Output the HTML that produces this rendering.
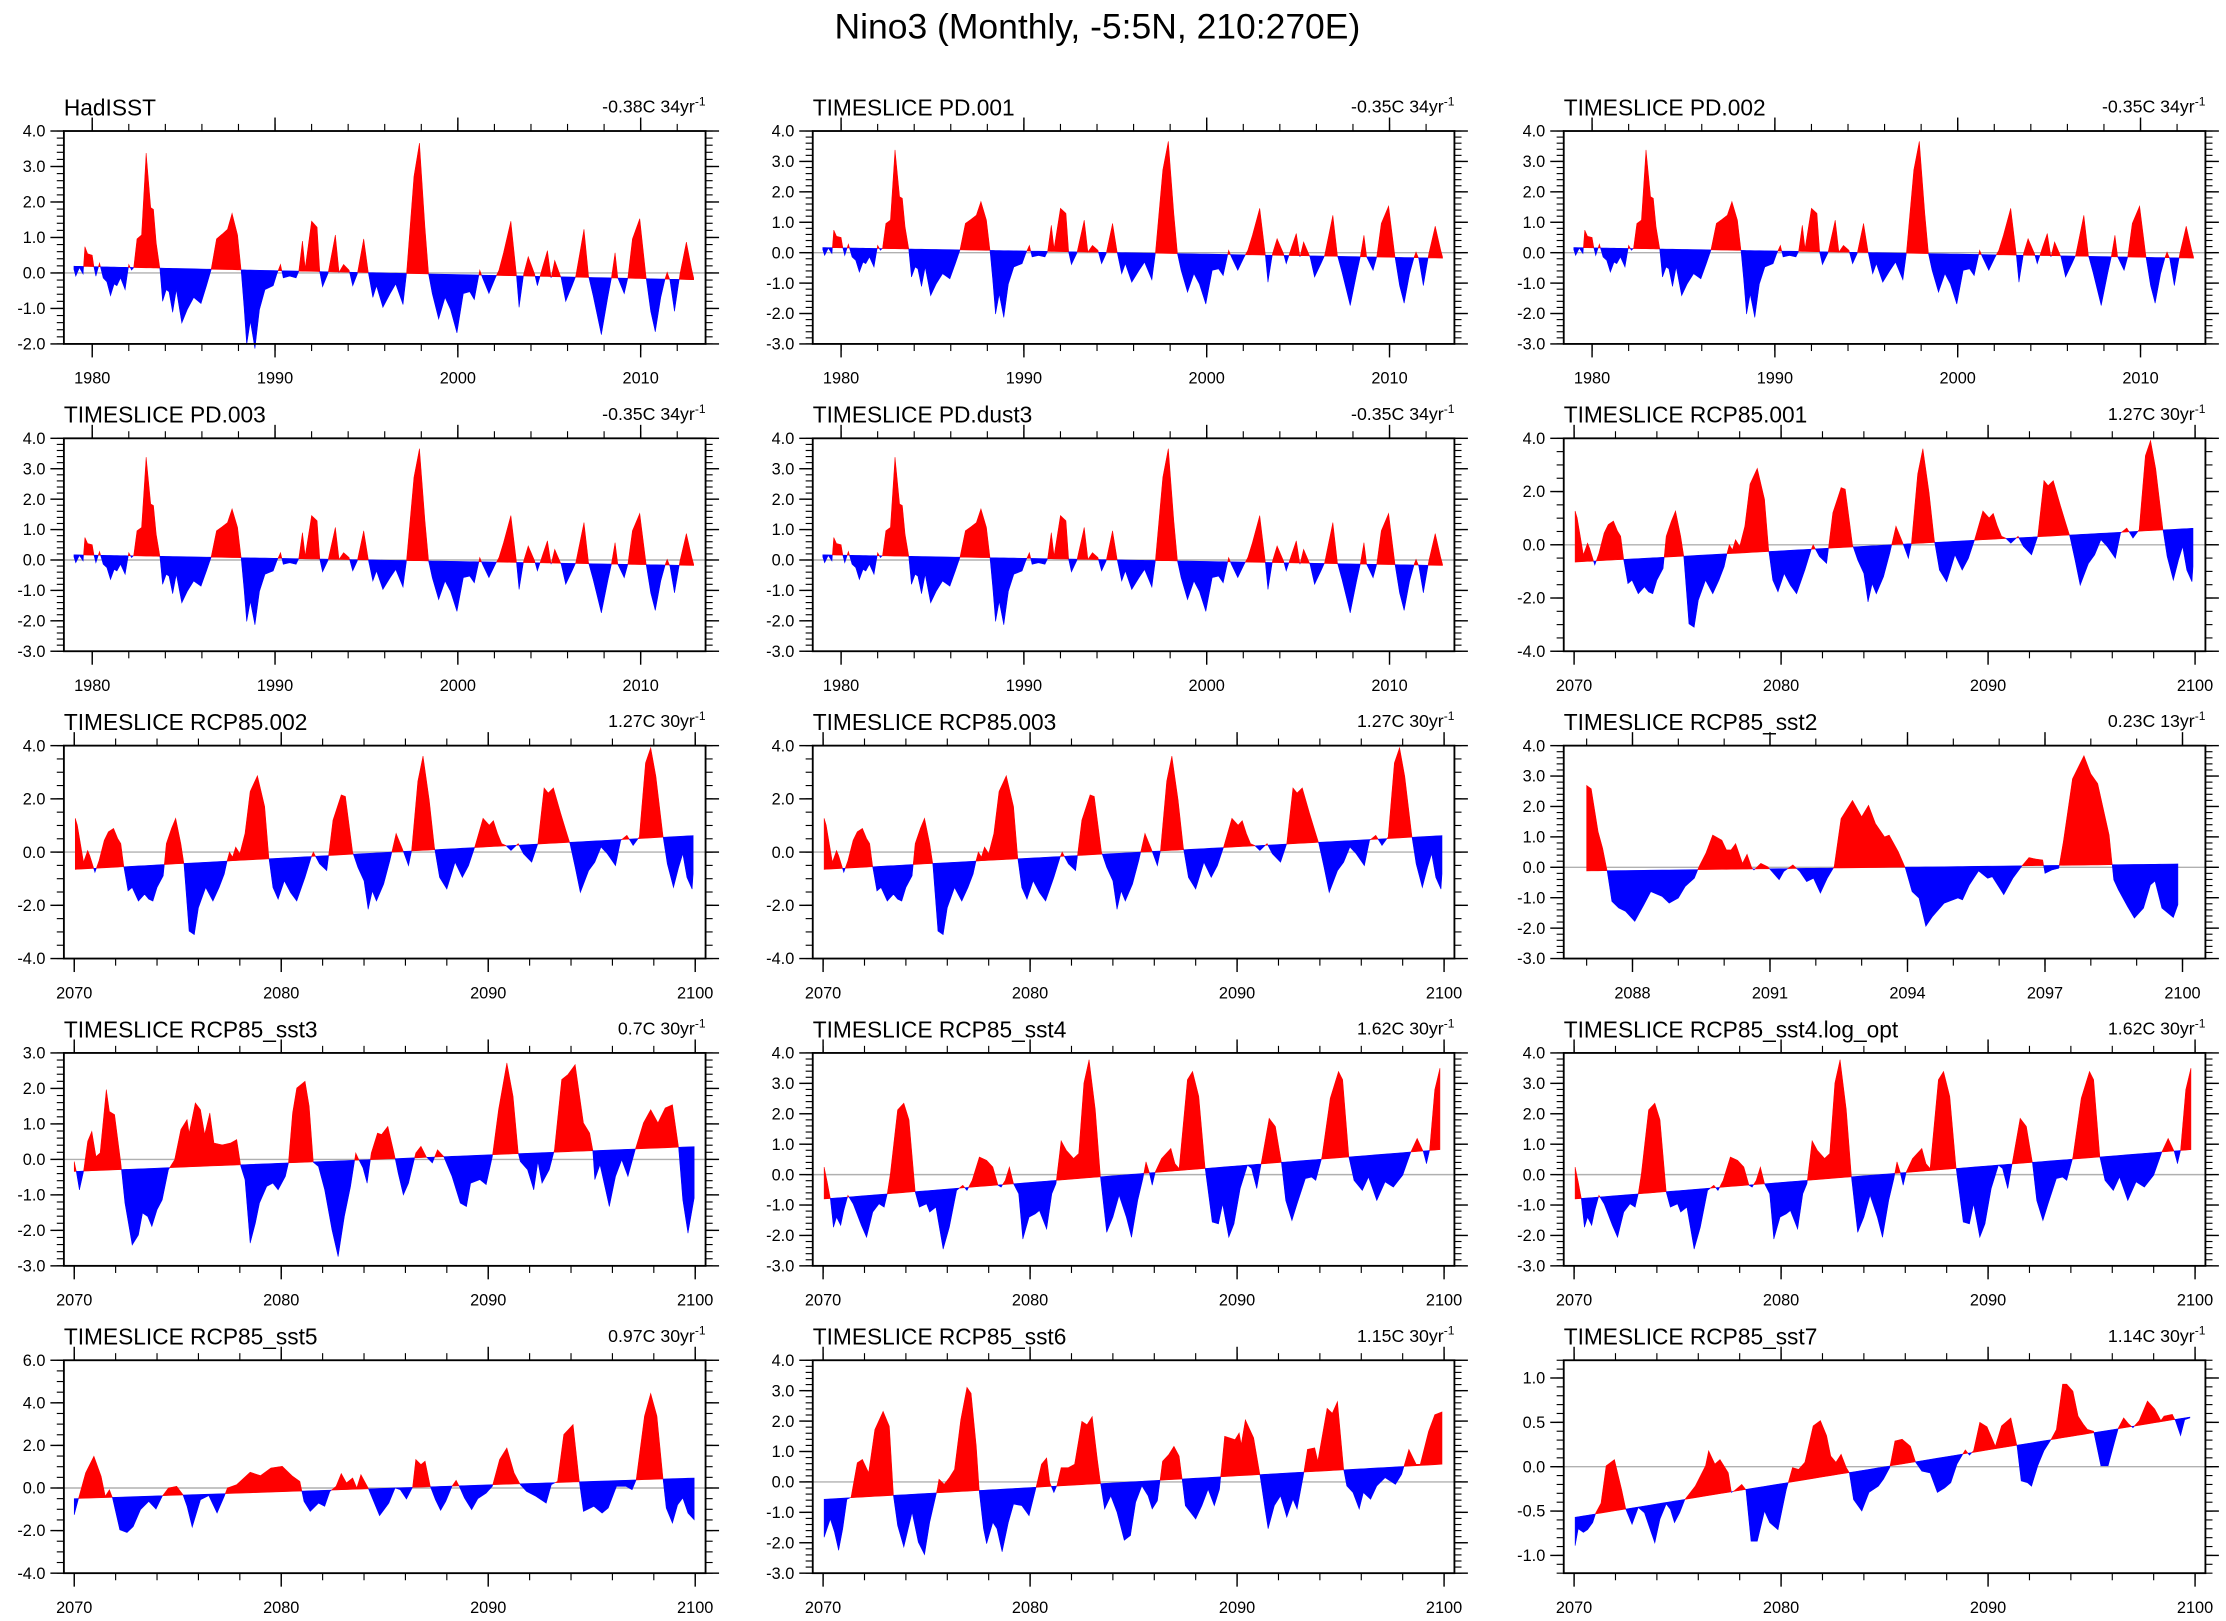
<!DOCTYPE html>
<html><head><meta charset="utf-8"><title>Nino3 Monthly</title>
<style>
html,body{margin:0;padding:0;background:#fff;}
svg{display:block;font-family:"Liberation Sans",Arial,sans-serif;}
</style></head>
<body>
<svg id="fig" xmlns="http://www.w3.org/2000/svg" width="2226" height="1621" viewBox="0 0 1568 1142" preserveAspectRatio="none">
<rect x="0" y="0" width="1568" height="1142" fill="#fff"/>
<text x="773" y="27" font-size="25" text-anchor="middle">Nino3 (Monthly, -5:5N, 210:270E)</text>
</svg>
<script>
// ---- data (time in years, value in degC) ----
const pdT = [1979.0,1979.1,1979.3,1979.5,1979.6,1979.75,1980.0,1980.1,1980.2,1980.4,1980.6,1980.8,1981.0,1981.2,1981.35,1981.55,1981.8,1982.0,1982.15,1982.27,1982.45,1982.7,1982.95,1983.2,1983.35,1983.5,1983.7,1983.85,1984.05,1984.2,1984.4,1984.6,1984.9,1985.2,1985.55,1985.95,1986.25,1986.5,1986.8,1987.1,1987.4,1987.65,1987.95,1988.15,1988.3,1988.45,1988.65,1988.9,1989.15,1989.45,1989.9,1990.1,1990.3,1990.45,1990.8,1991.15,1991.3,1991.5,1991.65,1992.0,1992.3,1992.45,1992.6,1992.9,1993.3,1993.5,1993.75,1994.05,1994.25,1994.5,1994.85,1995.1,1995.35,1995.55,1995.9,1996.3,1996.6,1997.0,1997.2,1997.6,1997.9,1998.2,1998.4,1998.6,1998.95,1999.3,1999.6,1999.95,2000.3,2000.65,2000.9,2001.2,2001.35,2001.7,2002.05,2002.25,2002.5,2002.9,2003.2,2003.35,2003.6,2003.85,2004.2,2004.35,2004.65,2004.9,2005.1,2005.3,2005.65,2005.9,2006.25,2006.45,2006.9,2007.15,2007.4,2007.85,2008.2,2008.4,2008.6,2008.75,2009.1,2009.3,2009.55,2009.95,2010.3,2010.55,2010.8,2011.1,2011.35,2011.45,2011.6,2011.85,2012.15,2012.5,2012.8,2012.9];
const pdV = [0.1,-0.09,0.15,-0.03,0.74,0.54,0.5,0.15,-0.09,0.28,-0.14,-0.25,-0.64,-0.31,-0.36,-0.14,-0.47,0.24,0.08,0.15,0.96,1.07,3.38,1.84,1.79,0.85,0.13,-0.8,-0.47,-0.53,-1.11,-0.47,-1.41,-1.03,-0.69,-0.86,-0.36,0.08,0.96,1.09,1.23,1.68,1.07,0.05,-0.92,-2.02,-1.36,-2.13,-1.03,-0.47,-0.36,-0.03,0.24,-0.14,-0.09,-0.14,0.05,0.9,0.13,1.46,1.29,0.02,-0.39,-0.01,1.07,0.02,0.24,0.08,-0.36,-0.03,0.96,0.02,-0.69,-0.36,-0.97,-0.58,-0.31,-0.89,0.02,2.72,3.66,1.29,-0.03,-0.58,-1.3,-0.69,-1.03,-1.69,-0.58,-0.53,-0.75,0.08,-0.14,-0.58,-0.14,0.08,0.57,1.46,-0.03,-0.97,-0.03,0.46,-0.03,-0.36,0.19,0.63,-0.14,0.35,-0.14,-0.8,-0.36,-0.09,1.23,-0.09,-0.64,-1.74,-0.69,-0.14,0.57,-0.14,-0.58,-0.14,0.96,1.53,-0.14,-1.08,-1.66,-0.69,-0.14,0.02,-0.2,-1.08,-0.03,0.87,0.08,-0.14];

const rcpT = [2070.05,2070.15,2070.45,2070.65,2070.75,2071.0,2071.2,2071.45,2071.65,2071.9,2072.1,2072.25,2072.4,2072.6,2072.8,2073.1,2073.4,2073.6,2073.8,2074.0,2074.3,2074.45,2074.7,2074.9,2075.15,2075.3,2075.55,2075.8,2076.0,2076.35,2076.7,2077.0,2077.25,2077.4,2077.5,2077.65,2077.8,2078.0,2078.25,2078.5,2078.85,2079.2,2079.4,2079.6,2079.85,2080.15,2080.45,2080.75,2081.15,2081.45,2081.55,2081.85,2082.2,2082.5,2082.9,2083.1,2083.45,2083.7,2084.0,2084.2,2084.4,2084.6,2084.95,2085.25,2085.55,2085.85,2086.15,2086.3,2086.6,2086.85,2087.15,2087.4,2087.65,2088.0,2088.4,2088.75,2089.05,2089.35,2089.75,2090.05,2090.25,2090.45,2090.65,2090.85,2091.1,2091.45,2091.7,2092.1,2092.4,2092.7,2092.9,2093.15,2093.5,2093.75,2093.95,2094.2,2094.45,2094.85,2095.15,2095.45,2095.75,2096.15,2096.4,2096.7,2097.0,2097.3,2097.6,2097.85,2098.1,2098.45,2098.65,2098.95,2099.2,2099.4,2099.6,2099.85,2099.9];
const rcpV = [1.27,1.01,-0.38,0.06,-0.13,-0.76,-0.32,0.44,0.76,0.89,0.51,0.32,-0.57,-1.46,-1.33,-1.84,-1.58,-1.77,-1.84,-1.33,-0.89,0.32,0.89,1.27,0.32,-0.44,-2.97,-3.1,-2.09,-1.33,-1.84,-1.33,-0.82,-0.29,0.0,-0.19,0.19,-0.06,0.7,2.28,2.87,1.71,-0.19,-1.33,-1.77,-1.08,-1.52,-1.84,-0.95,-0.19,0.0,-0.44,-0.7,1.2,2.15,2.09,0.0,-0.57,-1.08,-2.15,-1.46,-1.84,-1.2,-0.32,0.7,0.13,-0.51,0.06,2.66,3.61,1.96,0.19,-0.95,-1.39,-0.38,-0.95,-0.51,0.19,1.27,1.01,1.18,0.7,0.32,0.25,0.06,0.32,-0.06,-0.38,0.32,2.41,2.22,2.41,1.46,0.82,0.32,-0.57,-1.52,-0.7,-0.38,0.19,-0.06,-0.51,0.44,0.63,0.25,0.57,3.35,3.92,2.85,0.57,-0.44,-1.33,-0.57,-0.06,-0.95,-1.39,-0.82];

const sst2T = [2087.0,2087.1,2087.25,2087.35,2087.45,2087.55,2087.7,2087.85,2088.05,2088.25,2088.4,2088.65,2088.8,2089.0,2089.15,2089.35,2089.45,2089.6,2089.75,2089.95,2090.05,2090.15,2090.25,2090.4,2090.5,2090.6,2090.65,2090.8,2090.95,2091.2,2091.3,2091.5,2091.65,2091.8,2091.95,2092.1,2092.25,2092.4,2092.55,2092.8,2093.0,2093.15,2093.3,2093.5,2093.6,2093.8,2093.95,2094.1,2094.25,2094.4,2094.55,2094.8,2095.1,2095.2,2095.35,2095.55,2095.75,2095.85,2096.1,2096.3,2096.5,2096.65,2096.8,2096.95,2097.0,2097.15,2097.3,2097.4,2097.6,2097.85,2098.0,2098.15,2098.4,2098.5,2098.6,2098.8,2098.95,2099.15,2099.3,2099.4,2099.55,2099.8,2099.9];
const sst2V = [2.69,2.58,1.17,0.62,-0.14,-1.12,-1.34,-1.45,-1.78,-1.23,-0.8,-0.96,-1.18,-1.01,-0.63,-0.36,0.02,0.46,1.06,0.89,0.57,0.57,0.78,0.13,0.43,-0.01,-0.09,0.13,0.02,-0.41,-0.14,0.08,-0.14,-0.47,-0.36,-0.85,-0.36,0.02,1.6,2.2,1.66,2.04,1.44,1.0,1.06,0.51,-0.01,-0.8,-1.01,-1.94,-1.61,-1.18,-1.01,-1.07,-0.58,-0.12,-0.36,-0.31,-0.9,-0.36,0.05,0.32,0.27,0.24,-0.2,-0.09,-0.03,0.84,2.91,3.67,3.07,2.75,1.06,-0.41,-0.74,-1.29,-1.67,-1.34,-0.58,-0.45,-1.34,-1.65,-1.23];

const sst3T = [2070.0,2070.1,2070.25,2070.45,2070.65,2070.85,2071.05,2071.25,2071.55,2071.7,2071.95,2072.25,2072.45,2072.8,2073.1,2073.3,2073.55,2073.75,2074.0,2074.25,2074.55,2074.85,2075.15,2075.45,2075.55,2075.85,2076.1,2076.3,2076.55,2076.75,2077.15,2077.55,2077.85,2078.05,2078.25,2078.5,2078.75,2078.95,2079.3,2079.6,2079.85,2080.2,2080.35,2080.55,2080.75,2081.15,2081.35,2081.55,2081.8,2082.1,2082.45,2082.75,2083.05,2083.35,2083.6,2083.75,2083.95,2084.15,2084.35,2084.65,2084.85,2085.15,2085.45,2085.65,2085.9,2086.15,2086.5,2086.75,2087.0,2087.3,2087.55,2087.85,2088.05,2088.25,2088.65,2088.95,2089.15,2089.6,2089.9,2090.2,2090.5,2090.9,2091.2,2091.45,2091.55,2091.9,2092.2,2092.4,2092.6,2092.95,2093.2,2093.55,2093.85,2094.2,2094.6,2094.9,2095.05,2095.15,2095.4,2095.85,2096.15,2096.45,2096.75,2097.1,2097.5,2097.85,2098.2,2098.55,2098.9,2099.2,2099.4,2099.65,2099.95];
const sst3V = [-0.06,-0.34,-0.86,-0.34,0.51,0.79,0.08,0.18,1.97,1.35,1.26,-0.1,-1.23,-2.41,-2.13,-1.51,-1.61,-1.89,-1.42,-1.14,-0.29,-0.01,0.84,1.12,0.74,1.59,1.4,0.7,1.31,0.46,0.41,0.46,0.56,-0.2,-0.57,-2.36,-1.8,-1.23,-0.76,-0.67,-0.86,-0.48,-0.1,1.31,2.01,2.2,1.5,-0.08,-0.2,-0.86,-1.98,-2.74,-1.61,-0.76,0.18,-0.01,-0.24,-0.67,0.18,0.74,0.7,0.93,0.18,-0.39,-1.0,-0.67,0.18,0.37,0.08,-0.1,0.27,0.08,-0.2,-0.48,-1.23,-1.33,-0.67,-0.57,-0.71,0.08,1.4,2.72,1.78,0.18,-0.06,-0.29,-0.86,-0.06,-0.67,-0.29,0.27,2.25,2.39,2.67,1.03,0.74,0.27,-0.57,-0.15,-1.33,-0.48,-0.01,-0.48,0.27,1.03,1.4,1.03,1.45,1.54,0.32,-1.14,-2.08,-1.09];

const sst4T = [2070.05,2070.2,2070.35,2070.5,2070.65,2070.85,2071.0,2071.2,2071.45,2071.85,2072.1,2072.4,2072.7,2072.95,2073.1,2073.25,2073.6,2073.9,2074.15,2074.45,2074.65,2075.0,2075.15,2075.45,2075.8,2076.1,2076.45,2076.75,2076.95,2077.2,2077.55,2077.9,2078.2,2078.45,2078.6,2078.8,2079.0,2079.2,2079.45,2079.65,2079.95,2080.25,2080.45,2080.8,2081.05,2081.25,2081.5,2081.75,2082.1,2082.35,2082.6,2082.85,2083.15,2083.4,2083.7,2084.0,2084.3,2084.65,2084.9,2085.2,2085.45,2085.6,2085.75,2085.9,2086.05,2086.35,2086.8,2087.0,2087.2,2087.6,2087.85,2088.15,2088.45,2088.8,2089.1,2089.3,2089.6,2089.85,2090.15,2090.5,2090.7,2090.95,2091.15,2091.55,2091.85,2092.15,2092.35,2092.65,2092.9,2093.3,2093.6,2093.8,2094.1,2094.5,2094.9,2095.1,2095.4,2095.65,2096.05,2096.35,2096.75,2097.15,2097.55,2098.0,2098.4,2098.7,2099.0,2099.15,2099.3,2099.55,2099.8];
const sst4V = [0.25,-0.24,-0.79,-1.73,-1.4,-1.67,-1.18,-0.68,-0.96,-1.67,-2.06,-1.23,-0.96,-1.07,-0.63,0.03,2.13,2.35,1.8,-0.57,-1.07,-0.96,-1.23,-1.07,-2.45,-1.73,-0.52,-0.35,-0.52,-0.19,0.58,0.47,0.25,-0.35,-0.41,-0.19,0.25,-0.3,-0.63,-2.12,-1.4,-1.29,-1.18,-1.79,-0.63,-0.3,1.11,0.8,0.53,0.69,3.01,3.78,2.13,-0.08,-1.9,-1.4,-0.68,-1.4,-2.06,-0.85,-0.13,0.42,0.09,-0.35,0.09,0.53,0.86,0.36,0.2,3.12,3.39,2.57,0.25,-1.56,-1.62,-0.96,-2.06,-1.62,-0.46,0.31,0.2,-0.46,0.31,1.85,1.58,0.36,-0.85,-1.51,-0.96,-0.13,-0.08,-0.19,0.58,2.51,3.39,3.12,0.58,-0.19,-0.52,-0.08,-0.85,-0.24,-0.41,-0.02,0.75,1.19,0.75,0.36,0.8,2.79,3.5];

const sst5T = [2070.0,2070.2,2070.55,2070.95,2071.3,2071.5,2071.7,2071.85,2072.2,2072.55,2072.85,2073.2,2073.6,2073.95,2074.25,2074.55,2074.95,2075.25,2075.45,2075.7,2076.1,2076.5,2076.9,2077.25,2077.4,2077.85,2078.5,2079.0,2079.5,2080.05,2080.55,2080.9,2081.1,2081.4,2081.8,2082.1,2082.35,2082.65,2082.9,2083.15,2083.45,2083.65,2083.85,2084.2,2084.5,2084.75,2085.2,2085.5,2085.75,2086.05,2086.35,2086.5,2086.75,2086.95,2087.2,2087.45,2087.7,2087.95,2088.25,2088.45,2088.6,2088.85,2089.2,2089.5,2089.9,2090.2,2090.55,2090.9,2091.25,2091.55,2091.85,2092.3,2092.8,2093.05,2093.35,2093.65,2094.1,2094.4,2094.6,2095.1,2095.5,2095.8,2096.2,2096.65,2096.95,2097.15,2097.55,2097.85,2098.15,2098.45,2098.6,2098.9,2099.15,2099.4,2099.65,2099.95];
const sst5V = [-1.26,-0.52,0.71,1.49,0.55,-0.39,-0.08,-0.47,-1.96,-2.09,-1.81,-1.02,-0.63,-0.99,-0.39,0.0,0.08,-0.31,-0.86,-1.84,-0.55,-0.36,-1.18,-0.39,0.0,0.16,0.74,0.58,0.94,1.02,0.55,0.31,-0.63,-1.1,-0.71,-0.86,-0.16,0.08,0.68,0.24,0.47,0.0,0.63,0.0,-0.71,-1.3,-0.71,0.0,-0.08,-0.52,0.05,1.34,1.1,1.26,0.08,-0.55,-1.05,-0.63,0.08,0.36,0.08,-0.47,-1.02,-0.5,-0.24,0.08,1.34,1.88,0.71,0.16,-0.16,-0.39,-0.71,0.16,0.31,2.51,2.98,0.31,-1.1,-0.86,-1.18,-0.94,0.08,0.08,-0.08,0.39,3.38,4.44,3.38,0.39,-0.94,-1.65,-0.79,-0.47,-1.18,-1.49];

const sst6T = [2070.05,2070.35,2070.55,2070.75,2070.95,2071.15,2071.35,2071.65,2071.9,2072.2,2072.5,2072.9,2073.2,2073.4,2073.6,2073.9,2074.3,2074.6,2074.9,2075.15,2075.5,2075.6,2075.85,2076.1,2076.35,2076.65,2076.95,2077.15,2077.4,2077.55,2077.75,2077.9,2078.2,2078.4,2078.65,2078.95,2079.2,2079.6,2079.95,2080.25,2080.55,2080.8,2080.95,2081.15,2081.3,2081.5,2081.85,2082.15,2082.5,2082.75,2083.0,2083.25,2083.4,2083.6,2083.9,2084.2,2084.55,2084.85,2085.1,2085.4,2085.7,2085.9,2086.15,2086.4,2086.7,2086.95,2087.2,2087.35,2087.5,2088.0,2088.3,2088.6,2088.9,2089.15,2089.4,2089.9,2090.1,2090.2,2090.4,2090.8,2091.1,2091.35,2091.5,2091.8,2092.1,2092.4,2092.7,2092.9,2093.2,2093.4,2093.75,2093.9,2094.35,2094.6,2094.85,2095.15,2095.3,2095.6,2095.9,2096.1,2096.45,2096.75,2097.15,2097.65,2097.95,2098.3,2098.65,2098.85,2099.25,2099.55,2099.9];
const sst6V = [-1.82,-1.22,-1.65,-2.25,-1.54,-0.57,-0.51,0.63,0.74,0.3,1.72,2.32,1.83,-0.46,-1.43,-2.14,-1.0,-1.98,-2.39,-1.33,-0.29,0.09,-0.08,0.14,0.41,2.04,3.11,2.91,1.17,-0.35,-1.54,-2.03,-1.33,-1.54,-2.3,-1.33,-0.73,-0.78,-1.11,-0.29,0.58,0.79,-0.02,-0.35,-0.11,0.47,0.47,0.58,1.99,1.88,2.15,0.74,-0.02,-0.89,-0.46,-1.0,-1.92,-1.76,-0.67,-0.13,-0.46,-0.89,-0.62,0.68,0.9,1.17,0.85,0.07,-0.78,-1.22,-0.78,-0.24,-0.78,-0.24,1.5,1.39,1.61,1.23,2.04,1.45,0.25,-0.89,-1.54,-0.78,-0.46,-1.16,-0.57,-0.89,0.2,1.07,1.12,0.68,2.42,2.26,2.64,0.41,-0.13,-0.35,-0.89,-0.35,-0.57,-0.13,0.14,-0.08,0.25,1.07,0.58,0.58,1.66,2.21,2.3];

const sst7T = [2070.05,2070.2,2070.45,2070.65,2070.9,2071.05,2071.3,2071.55,2071.95,2072.3,2072.5,2072.8,2073.1,2073.4,2073.9,2074.15,2074.45,2074.65,2074.85,2075.1,2075.35,2075.85,2076.35,2076.5,2076.8,2077.05,2077.45,2077.6,2077.75,2078.1,2078.3,2078.55,2078.85,2079.2,2079.45,2079.85,2080.25,2080.55,2080.85,2081.15,2081.55,2081.9,2082.2,2082.4,2082.65,2082.9,2083.15,2083.3,2083.5,2083.9,2084.25,2084.7,2084.95,2085.25,2085.5,2085.85,2086.25,2086.5,2086.8,2087.2,2087.55,2087.9,2088.2,2088.5,2088.9,2089.1,2089.3,2089.6,2089.95,2090.35,2090.65,2091.1,2091.4,2091.6,2091.9,2092.1,2092.4,2092.7,2093.05,2093.3,2093.6,2093.8,2094.1,2094.35,2094.6,2094.8,2095.1,2095.45,2095.8,2096.1,2096.3,2096.55,2096.8,2097.0,2097.3,2097.7,2098.05,2098.35,2098.5,2098.9,2099.05,2099.3,2099.5,2099.75];
const sst7V = [-0.89,-0.7,-0.74,-0.71,-0.63,-0.52,-0.41,0.01,0.08,-0.26,-0.48,-0.65,-0.46,-0.52,-0.86,-0.59,-0.42,-0.48,-0.63,-0.52,-0.37,-0.22,0.01,0.18,0.03,0.08,-0.07,-0.29,-0.27,-0.2,-0.26,-0.84,-0.84,-0.5,-0.63,-0.71,-0.26,-0.01,-0.03,0.05,0.46,0.52,0.35,0.12,0.05,0.14,-0.01,-0.07,-0.37,-0.5,-0.29,-0.22,-0.14,-0.01,0.29,0.31,0.23,0.05,-0.05,-0.07,-0.29,-0.24,-0.18,0.03,0.19,0.13,0.18,0.5,0.45,0.23,0.46,0.55,0.23,-0.16,-0.18,-0.22,0.01,0.18,0.31,0.42,0.93,0.93,0.85,0.57,0.48,0.42,0.4,0.01,0.01,0.27,0.44,0.55,0.48,0.44,0.52,0.74,0.65,0.52,0.57,0.59,0.52,0.35,0.53,0.55];

// panel metadata
const panelTitles = ["HadISST","TIMESLICE PD.001","TIMESLICE PD.002","TIMESLICE PD.003","TIMESLICE PD.dust3","TIMESLICE RCP85.001","TIMESLICE RCP85.002","TIMESLICE RCP85.003","TIMESLICE RCP85_sst2","TIMESLICE RCP85_sst3","TIMESLICE RCP85_sst4","TIMESLICE RCP85_sst4.log_opt","TIMESLICE RCP85_sst5","TIMESLICE RCP85_sst6","TIMESLICE RCP85_sst7"];
const trendLabels = ["-0.38C 34yr","-0.35C 34yr","-0.35C 34yr","-0.35C 34yr","-0.35C 34yr","1.27C 30yr","1.27C 30yr","1.27C 30yr","0.23C 13yr","0.7C 30yr","1.62C 30yr","1.62C 30yr","0.97C 30yr","1.15C 30yr","1.14C 30yr"];
const seriesKeys = ["pd","pd","pd","pd","pd","rcp","rcp","rcp","sst2","sst3","sst4","sst4","sst5","sst6","sst7"];
const trendStart = [0.19,0.17,0.17,0.17,0.17,-0.65,-0.65,-0.65,-0.12,-0.34,-0.8,-0.8,-0.5,-0.57,-0.57];
const trendEnd = [-0.19,-0.18,-0.18,-0.18,-0.18,0.62,0.62,0.62,0.11,0.36,0.82,0.82,0.47,0.58,0.56];
const yMin = [-2,-3,-3,-3,-3,-4,-4,-4,-3,-3,-3,-3,-4,-3,-1.2];
const yMax = [4,4,4,4,4,4,4,4,4,3,4,4,6,4,1.2];
const yMajorStep = [1,1,1,1,1,2,2,2,1,1,1,1,2,1,0.5];
const yMinorStep = [0.2,0.2,0.2,0.2,0.2,0.5,0.5,0.5,0.2,0.2,0.2,0.2,0.5,0.2,0.1];
const xType = ["pd","pd","pd","pd","pd","rcp","rcp","rcp","sst2","rcp","rcp","rcp","rcp","rcp","rcp"];
const xRange = {pd:[1978.45,2013.55], rcp:[2069.5,2100.5], sst2:[2086.5,2100.5]};
const xMajorTicks = {pd:[1980,1990,2000,2010], rcp:[2070,2080,2090,2100], sst2:[2088,2091,2094,2097,2100]};
const xMinorTicks = {pd:[1980,1982,1984,1986,1988,1990,1992,1994,1996,1998,2000,2002,2004,2006,2008,2010,2012], rcp:[2070,2072,2074,2076,2078,2080,2082,2084,2086,2088,2090,2092,2094,2096,2098,2100], sst2:[2087,2088,2089,2090,2091,2092,2093,2094,2095,2096,2097,2098,2099,2100]};
const seriesT = {pd:pdT, rcp:rcpT, sst2:sst2T, sst3:sst3T, sst4:sst4T, sst5:sst5T, sst6:sst6T, sst7:sst7T};
const seriesV = {pd:pdV, rcp:rcpV, sst2:sst2V, sst3:sst3V, sst4:sst4V, sst5:sst5V, sst6:sst6V, sst7:sst7V};

// layout
const NS = "http://www.w3.org/2000/svg";
const svg = document.getElementById("fig");
const colLeft = [45, 572.5, 1101.5];
const PW = 452, PH = 150, TOP0 = 92.3, ROWSTEP = 216.5;
const MAJ = 9.5, MIN = 5;

function mk(tag, attrs, parent) {
  const el = document.createElementNS(NS, tag);
  for (const k in attrs) el.setAttribute(k, attrs[k]);
  parent.appendChild(el);
  return el;
}
function fmt(v) { const s = (Math.abs(v) < 1e-9 ? 0 : v).toFixed(1); return s; }

for (let p = 0; p < panelTitles.length; p++) {
  const col = p % 3, row = Math.floor(p / 3);
  const L = colLeft[col], T = TOP0 + row * ROWSTEP, R = L + PW, B = T + PH;
  const xr = xRange[xType[p]];
  const sx = t => L + (t - xr[0]) / (xr[1] - xr[0]) * PW;
  const sy = v => B - (v - yMin[p]) / (yMax[p] - yMin[p]) * PH;

  const g = mk("g", {}, svg);
  
  

  // titles
  const tt = mk("text", {x: L, y: T - 11, "font-size": 16}, g);
  tt.textContent = panelTitles[p];
  
  
  const st = mk("text", {x: R, y: T - 13, "font-size": 12.5, "text-anchor": "end"}, g);
  
  
  st.appendChild(document.createTextNode(trendLabels[p]));
  const sup = mk("tspan", {dy: -5, "font-size": 8.5}, st);
  sup.textContent = "-1";

  // zero line
  const zl = mk("line", {x1: L, x2: R, y1: sy(0), y2: sy(0), stroke: "#b0b0b0", "stroke-width": 1}, g);
  
  

  // fills relative to trend line
  const ts = seriesT[seriesKeys[p]], vs = seriesV[seriesKeys[p]];
  const t0 = ts[0], tN = ts[ts.length - 1];
  const trend = t => trendStart[p] + (trendEnd[p] - trendStart[p]) * (t - t0) / (tN - t0);
  let runPts = [], runSign = 0;
  function flush() {
    if (runPts.length < 2) { runPts = []; return; }
    let d = runPts.map(q => sx(q[0]).toFixed(2) + "," + sy(q[1]).toFixed(2));
    for (let k = runPts.length - 1; k >= 0; k--) d.push(sx(runPts[k][0]).toFixed(2) + "," + sy(trend(runPts[k][0])).toFixed(2));
    const poly = mk("polygon", {points: d.join(" "), fill: runSign > 0 ? "#ff0000" : "#0000ff", stroke: runSign > 0 ? "#ff0000" : "#0000ff", "stroke-width": 0.4}, g);
    
    
    runPts = [];
  }
  for (let i = 0; i < ts.length; i++) {
    const d = vs[i] - trend(ts[i]);
    const s = d >= 0 ? 1 : -1;
    if (i === 0) { runSign = s; runPts.push([ts[i], vs[i]]); continue; }
    if (s !== runSign) {
      const dPrev = vs[i-1] - trend(ts[i-1]);
      const f = dPrev / (dPrev - d);
      const tc = ts[i-1] + f * (ts[i] - ts[i-1]);
      const pc = [tc, trend(tc)];
      runPts.push(pc);
      flush();
      runSign = s;
      runPts.push(pc);
    }
    runPts.push([ts[i], vs[i]]);
  }
  flush();

  // frame
  const fr = mk("rect", {x: L, y: T, width: PW, height: PH, fill: "none", stroke: "#000", "stroke-width": 1.3}, g);
  
  

  // y ticks
  const eps = 1e-6;
  const nMin = Math.round((yMax[p] - yMin[p]) / yMinorStep[p]);
  for (let k = 0; k <= nMin; k++) {
    const v = yMin[p] + k * yMinorStep[p];
    const y = sy(v);
    mk("line", {x1: L, x2: L - MIN, y1: y, y2: y, stroke: "#000", "stroke-width": 0.8}, g);
    mk("line", {x1: R, x2: R + MIN, y1: y, y2: y, stroke: "#000", "stroke-width": 0.8}, g);
  }
  const startMaj = Math.ceil((yMin[p] - eps) / yMajorStep[p]) * yMajorStep[p];
  for (let v = startMaj; v <= yMax[p] + eps; v += yMajorStep[p]) {
    const y = sy(v);
    mk("line", {x1: L, x2: L - MAJ, y1: y, y2: y, stroke: "#000", "stroke-width": 1}, g);
    mk("line", {x1: R, x2: R + MAJ, y1: y, y2: y, stroke: "#000", "stroke-width": 1}, g);
    const lab = mk("text", {x: L - 13, y: y + 4, "font-size": 11.5, "text-anchor": "end"}, g);
    lab.textContent = fmt(v);
    
    
  }

  // x ticks
  for (const t of xMinorTicks[xType[p]]) {
    const x = sx(t);
    mk("line", {x1: x, x2: x, y1: B, y2: B + MIN, stroke: "#000", "stroke-width": 0.8}, g);
    mk("line", {x1: x, x2: x, y1: T, y2: T - MIN, stroke: "#000", "stroke-width": 0.8}, g);
  }
  for (const t of xMajorTicks[xType[p]]) {
    const x = sx(t);
    mk("line", {x1: x, x2: x, y1: B, y2: B + MAJ, stroke: "#000", "stroke-width": 1}, g);
    mk("line", {x1: x, x2: x, y1: T, y2: T - MAJ, stroke: "#000", "stroke-width": 1}, g);
    const lab = mk("text", {x: x, y: B + 28, "font-size": 11.5, "text-anchor": "middle"}, g);
    lab.textContent = String(t);
    
    
  }
}
</script>
</body></html>
